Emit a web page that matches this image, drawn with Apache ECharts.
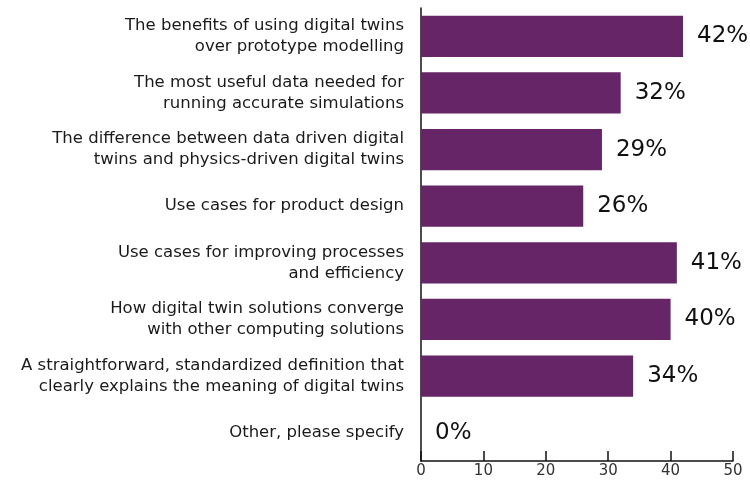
<!DOCTYPE html>
<html>
<head>
<meta charset="utf-8">
<script src="https://cdn.jsdelivr.net/npm/echarts@6/dist/echarts.min.js"></script>
<style>
  html, body { margin: 0; padding: 0; background: #fff; }
  #chart { width: 750px; height: 482px; }
</style>
</head>
<body>
<div id="chart"></div>
<script>
const categories = [
  "The benefits of using digital twins\nover prototype modelling",
  "The most useful data needed for\nrunning accurate simulations",
  "The difference between data driven digital\ntwins and physics-driven digital twins",
  "Use cases for product design",
  "Use cases for improving processes\nand efficiency",
  "How digital twin solutions converge\nwith other computing solutions",
  "A straightforward, standardized definition that\nclearly explains the meaning of digital twins",
  "Other, please specify"
];
const values = [42, 32, 29, 26, 41, 40, 34, 0];
const xTicks = { min: 0, max: 50, interval: 10 };

const chart = echarts.init(document.getElementById("chart"));

const option = {
  animation: false,
  grid: { left: 421, right: 17, top: 8, bottom: 21, containLabel: false },
  xAxis: {
    type: "value",
    min: xTicks.min,
    max: xTicks.max,
    interval: xTicks.interval,
    axisLine: { show: true, lineStyle: { color: "#111", width: 1.5 } },
    axisTick: { show: true, inside: true, length: 10, lineStyle: { color: "#111", width: 1.5 } },
    axisLabel: { color: "#333", fontSize: 15, fontFamily: "DejaVu Sans", margin: 3 },
    splitLine: { show: false }
  },
  yAxis: {
    type: "category",
    inverse: true,
    data: categories,
    axisLine: { show: true, lineStyle: { color: "#111", width: 1.5 } },
    axisTick: { show: false },
    axisLabel: {
      color: "#1a1a1a",
      fontSize: 16.5,
      fontFamily: "DejaVu Sans",
      lineHeight: 21,
      align: "right",
      margin: 17
    }
  },
  series: [{
    type: "bar",
    data: values,
    barCategoryGap: "27%",
    itemStyle: { color: "#652566" },
    label: {
      show: true,
      position: "right",
      distance: 14,
      formatter: "{c}%",
      color: "#111",
      fontSize: 23,
      fontFamily: "DejaVu Sans"
    }
  }]
};

chart.setOption(option);
</script>
</body>
</html>
